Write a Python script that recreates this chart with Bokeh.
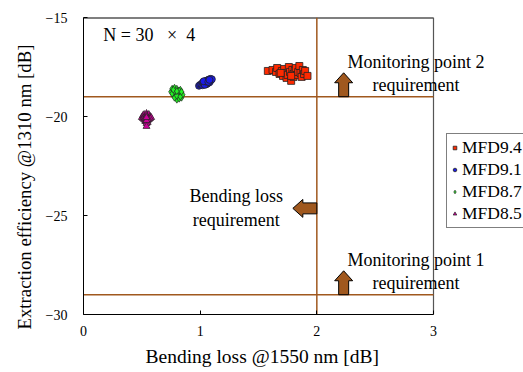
from bokeh.plotting import figure
from bokeh.models import Legend, LegendItem, Label, FixedTicker, Range1d, Title
from bokeh.embed import file_html
from bokeh.resources import INLINE

# ---- data ----
red_x = [1.58,1.62,1.65,1.66,1.68,1.70,1.71,1.72,1.73,1.74,1.75,1.76,1.77,1.78,1.79,
         1.80,1.80,1.81,1.82,1.83,1.84,1.85,1.86,1.87,1.88,1.89,1.90,1.92,1.69,1.78]
red_y = [-17.70,-17.65,-17.75,-17.55,-17.85,-17.70,-17.95,-17.60,-17.80,-18.05,-17.90,-17.50,
         -17.75,-18.20,-17.65,-17.85,-18.00,-17.70,-17.55,-17.90,-17.75,-17.45,-17.80,-18.00,
         -17.65,-17.85,-17.70,-17.95,-17.80,-17.95]
blue_x = [0.99,1.00,1.01,1.02,1.02,1.03,1.03,1.04,1.04,1.05,1.05,1.05,1.06,1.06,1.06,
          1.07,1.07,1.07,1.08,1.08,1.08,1.09,1.09,1.10,1.04,1.05,1.06,1.03,1.07,1.08]
blue_y = [-18.45,-18.40,-18.38,-18.30,-18.42,-18.28,-18.36,-18.25,-18.33,-18.20,-18.30,-18.38,
          -18.18,-18.26,-18.34,-18.15,-18.22,-18.30,-18.12,-18.20,-18.27,-18.10,-18.18,-18.12,
          -18.40,-18.24,-18.22,-18.22,-18.25,-18.15]
green_x = [0.75,0.76,0.77,0.77,0.78,0.78,0.79,0.79,0.80,0.80,0.80,0.81,0.81,0.82,0.82,
           0.83,0.83,0.84,0.84,0.85,0.76,0.78,0.79,0.81,0.82,0.80,0.83,0.77,0.84,0.80]
green_y = [-18.75,-18.60,-18.90,-18.70,-18.55,-18.85,-18.70,-19.00,-18.60,-18.80,-19.15,-18.70,
           -18.95,-18.80,-19.10,-18.65,-18.90,-18.80,-19.05,-18.90,-18.85,-19.05,-18.78,-18.85,
           -18.70,-18.95,-19.00,-18.65,-18.75,-18.72]
mag_x = [0.50,0.51,0.52,0.53,0.54,0.55,0.56,0.57,0.58,0.51,0.52,0.53,0.54,0.55,0.56,
         0.57,0.52,0.53,0.54,0.55,0.56,0.53,0.54,0.55,0.54,0.53,0.55,0.54,0.54,0.54]
mag_y = [-20.05,-19.95,-19.90,-20.00,-19.85,-19.95,-19.90,-20.00,-20.05,-20.10,-20.05,-20.10,
         -19.95,-20.05,-20.10,-20.10,-20.15,-20.20,-20.10,-20.20,-20.15,-20.25,-20.25,-20.30,
         -20.35,-20.10,-20.15,-20.20,-20.50,-20.05]

series_names = ["MFD9.4", "MFD9.1", "MFD8.7", "MFD8.5"]
x_ticks = [0, 1, 2, 3]
y_ticks = [-30, -25, -20, -15]
x_min, x_max = 0, 3
y_min, y_max = -30, -15

bend_limit = 2.0          # bending loss requirement [dB]
mp2_limit = -19.0         # monitoring point 2 requirement [dB]
mp1_limit = -29.0         # monitoring point 1 requirement [dB]

FONT = "Liberation Serif"
BROWN = "#A0581E"

# frame spans 83..523 px; data 0..3 occupies 83..433 px
x_view_end = x_max * 440.0 / 350.0
p = figure(width=523, height=372, output_backend="svg", toolbar_location=None,
           x_range=Range1d(x_min, x_view_end), y_range=Range1d(y_min, y_max),
           min_border_left=83, min_border_right=0, min_border_top=17, min_border_bottom=57)
p.grid.visible = False
p.background_fill_color = "white"
p.border_fill_color = "white"
p.outline_line_color = None

for ax in (p.xaxis[0], p.yaxis[0]):
    ax.major_label_text_font = FONT
    ax.major_label_text_font_size = "14px"
    ax.major_label_text_color = "black"
    ax.axis_line_color = "black"
    ax.major_tick_in = 4
    ax.major_tick_out = 0
    ax.minor_tick_line_color = None
    ax.major_tick_line_color = "black"
p.xaxis.bounds = (x_min, x_max)
p.xaxis.ticker = FixedTicker(ticks=x_ticks)
p.yaxis.ticker = FixedTicker(ticks=y_ticks)
p.xaxis.major_label_standoff = 11
p.yaxis.major_label_standoff = 16

# axis titles as panel titles (allow offsetting like the reference)
xt = Title(text="Bending loss @1550 nm [dB]", align="left", offset=62,
           text_font=FONT, text_font_size="19.5px", text_font_style="normal",
           text_color="black", standoff=11)
yt = Title(text="Extraction efficiency @1310 nm [dB]", align="left", offset=-15,
           text_font=FONT, text_font_size="18.8px", text_font_style="normal",
           text_color="black", standoff=15)
p.add_layout(xt, "below")
p.add_layout(yt, "left")

# frame top / right borders
p.line([x_min, x_max], [y_max, y_max], line_color="black", line_width=2)
p.line([x_max, x_max], [y_min, y_max], line_color="#555555", line_width=1.2)

# requirement lines
p.line([x_min, x_max], [mp2_limit, mp2_limit], line_color=BROWN, line_width=1.5)
p.line([x_min, x_max], [mp1_limit, mp1_limit], line_color=BROWN, line_width=1.5)
p.line([bend_limit, bend_limit], [y_min, y_max], line_color=BROWN, line_width=1.5)

# arrows (block arrows) -- sizes in pixels converted to data units
sx = 1 / 116.7   # data per pixel (x)
sy = 1 / 19.87   # data per pixel (y)
def up_arrow(xc, yb, length=24, shaft=10, head=18, head_len=10):
    xs = [xc - shaft/2*sx, xc - shaft/2*sx, xc - head/2*sx, xc, xc + head/2*sx,
          xc + shaft/2*sx, xc + shaft/2*sx]
    ys = [yb, yb + (length-head_len)*sy, yb + (length-head_len)*sy, yb + length*sy,
          yb + (length-head_len)*sy, yb + (length-head_len)*sy, yb]
    return xs, ys
def left_arrow(xr, yc, length=24, shaft=11, head=18, head_len=10):
    xs = [xr, xr - (length-head_len)*sx, xr - (length-head_len)*sx, xr - length*sx,
          xr - (length-head_len)*sx, xr - (length-head_len)*sx, xr]
    ys = [yc + shaft/2*sy, yc + shaft/2*sy, yc + head/2*sy, yc, yc - head/2*sy,
          yc - shaft/2*sy, yc - shaft/2*sy]
    return xs, ys
a1 = up_arrow(2.23, mp2_limit)
a2 = up_arrow(2.23, mp1_limit)
a3 = left_arrow(bend_limit, -24.64)
p.patches([a1[0], a2[0], a3[0]], [a1[1], a2[1], a3[1]],
          fill_color=BROWN, line_color="black", line_width=1)

# scatter series
r1 = p.scatter(red_x, red_y, marker="square", size=7, fill_color="#FF2A00", line_color="#222222", line_width=0.8)
r2 = p.scatter(blue_x, blue_y, marker="circle", size=7, fill_color="#1A1AE6", line_color="#222222", line_width=0.8)
r3 = p.scatter(green_x, green_y, marker="diamond", size=7, fill_color="#22F022", line_color="#222222", line_width=0.7)
r4 = p.scatter(mag_x, mag_y, marker="triangle", size=7, fill_color="#CC0099", line_color="#222222", line_width=0.7)

# annotations
def lab(x, y, text, align="left", size="18px"):
    p.add_layout(Label(x=x, y=y, text=text, text_font=FONT, text_font_size=size,
                       text_color="black", text_align=align, text_baseline="middle"))
lab(0.17, -15.9, "N = 30\u00a0\u00a0\u00a0\u00d7\u00a0 4")
lab(2.85, -17.26, "Monitoring point 2", "center")
lab(2.85, -18.42, "requirement", "center")
lab(2.85, -27.23, "Monitoring point 1", "center")
lab(2.85, -28.39, "requirement", "center")
lab(1.31, -24.01, "Bending loss", "center")
lab(1.31, -25.22, "requirement", "center")

legend = Legend(items=[LegendItem(label=series_names[0], renderers=[r1]),
                       LegendItem(label=series_names[1], renderers=[r2]),
                       LegendItem(label=series_names[2], renderers=[r3]),
                       LegendItem(label=series_names[3], renderers=[r4])],
                location=(363, 86), label_text_font=FONT, label_text_font_size="17.5px",
                label_text_color="black", glyph_width=9, glyph_height=9,
                label_standoff=3, spacing=1, padding=3, margin=0,
                border_line_color="black", border_line_width=1,
                label_height=20, background_fill_alpha=1)
p.add_layout(legend, "center")

open("out.html", "w").write(file_html(p, INLINE))
